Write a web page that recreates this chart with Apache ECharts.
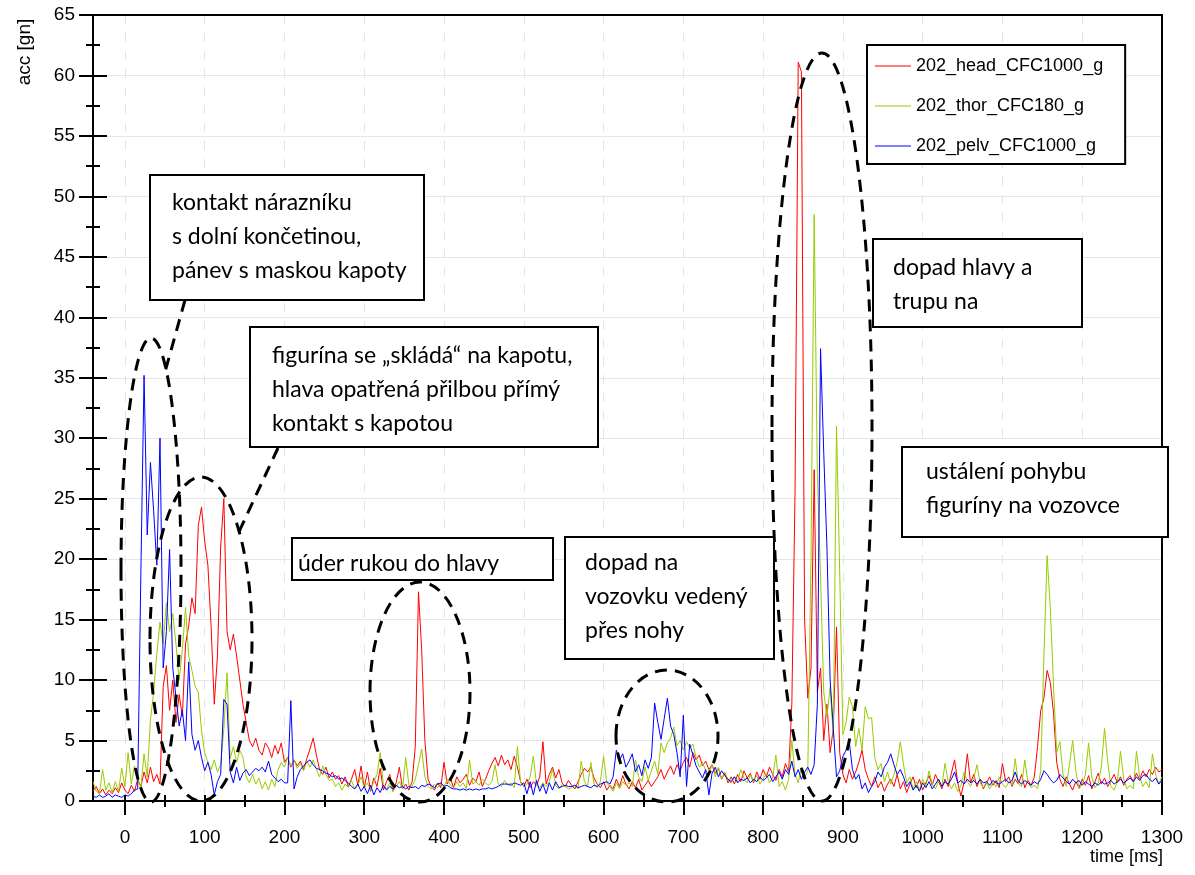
<!DOCTYPE html>
<html>
<head>
<meta charset="utf-8">
<script src="https://cdn.jsdelivr.net/npm/echarts@6/dist/echarts.min.js"></script>
<style>
html,body{margin:0;padding:0;background:#fff}
#chart{width:1195px;height:875px}
</style>
</head>
<body>
<div id="chart"></div>
<script>
const startTime = -40;
const sampleStep = 4;

const headAcc = [
  0.8,1.2,0.6,1.0,0.5,0.9,0.6,1.1,0.7,1.5,0.9,0.6,1.3,0.8,1.8,1.2,2.4,1.5,2.8,1.6,2.2,1.4,9.5,11.2,7.5,
  10,6.5,8.8,7,13,14.5,16.8,15.5,22.8,24.3,21.5,19.5,14.5,8,12,21,25,14,12.5,13.8,12,10,8,6.5,5,
  4.5,5.2,4.2,3.8,4.8,4.4,3.6,4.6,3.9,4.8,3.2,3.6,2.8,3.4,2.9,3.3,2.6,3.5,4.3,5.2,3.8,2.6,2.2,2.8,1.9,
  2.4,1.8,2.1,1.4,2.0,1.2,1.8,2.6,1.3,2.9,1.1,2.4,0.8,1.9,1.2,2.7,0.9,1.6,2.2,0.8,1.5,2.8,1.0,1.4,0.9,
  1.6,4.5,17.3,12.5,5.0,1.8,1.2,0.9,1.5,1.1,3.2,1.4,1.9,1.1,2.0,1.5,1.8,2.2,1.3,1.9,1.6,2.4,1.2,1.8,2.5,
  3.1,3.6,2.9,3.8,3.0,3.4,2.6,3.7,2.8,1.6,1.2,1.8,1.1,1.6,1.3,2.0,4.9,1.4,2.2,2.8,1.9,2.6,1.5,1.2,1.7,
  1.3,1.0,1.6,2.2,2.7,2.4,2.8,1.9,1.4,1.1,1.6,0.9,1.3,1.0,1.8,1.2,2.1,1.4,1.0,1.6,1.1,1.8,0.9,1.3,1.7,
  1.2,1.6,2.0,2.6,1.8,2.4,2.9,2.2,3.0,2.5,3.2,3.6,2.8,4.0,3.4,3.8,2.9,3.3,2.6,3.0,2.3,2.7,1.8,2.3,1.5,
  2.0,1.4,2.2,1.6,2.5,1.9,2.3,1.5,2.4,1.8,2.6,2.0,2.8,2.2,1.7,2.6,2.0,3.1,2.4,8,25.5,61.1,60.3,15,8.5,
  11,27.4,9,11,5,8,4,6,14.4,4,2.2,1.5,2.6,1.8,2.4,3.2,4.2,2.6,1.8,1.2,2.0,1.1,1.6,0.8,1.4,
  1.8,1.2,2.2,1.0,1.6,0.7,1.4,2.0,1.1,1.8,0.9,1.5,2.1,1.3,2.2,1.6,1.0,1.8,1.2,2.3,3.4,1.5,0.4,1.6,3.9,
  1.5,2.2,1.2,1.8,1.0,1.5,2.0,1.3,1.7,1.1,3.1,1.6,2.0,1.2,1.8,1.4,2.2,1.1,1.7,1.3,2.0,4.5,7.5,8.5,10.8,
  9.8,7.3,3.2,1.8,1.2,2.0,1.4,0.9,1.6,1.1,1.8,1.3,2.1,1.0,1.6,2.3,1.4,1.9,1.2,1.7,2.2,1.5,2.0,1.3,1.8,
  2.1,1.6,2.3,1.8,2.5,2.0,2.6,2.2,2.8,2.4,2.6
];

const thorAcc = [
  1.6,0.8,0.6,2.6,0.9,1.5,0.7,1.6,0.8,2.7,1.2,4.0,1.4,2.9,1.8,1.1,3.9,2.0,6.7,9.0,12.2,14.8,13,16.4,14,
  15.5,13,10,12.5,16,12,10.8,9.5,9,5.8,4.0,3.2,2.6,3.4,2.4,3.0,6,10.6,3.5,4.5,3.2,4.2,3.6,2.0,1.5,
  2.2,1.4,1.9,1.0,1.6,0.9,1.8,1.2,2.6,3.2,2.8,3.6,2.9,3.4,2.7,3.1,2.5,3.3,2.8,3.4,2.6,2.0,2.9,2.2,1.7,
  1.8,1.2,1.5,0.9,1.4,1.1,1.7,1.0,1.3,2.0,1.1,1.5,0.9,1.6,2.2,4.0,1.3,1.0,1.5,0.8,1.2,1.6,1.0,3.6,1.3,
  1.2,1.8,3.0,4.3,2.0,1.2,1.0,1.4,1.1,1.5,1.2,1.8,1.3,1.1,1.6,1.2,1.5,1.0,3.4,1.4,1.6,1.3,1.8,1.5,1.3,
  1.6,3.0,1.4,1.2,1.7,1.3,1.5,1.1,4.5,1.5,1.2,1.4,2.0,3.7,1.3,1.1,1.5,1.2,1.6,2.6,1.3,1.0,1.4,1.2,1.0,
  1.1,1.3,1.0,3.3,1.6,1.2,3.2,1.4,1.1,1.6,3.7,1.5,1.2,0.8,1.5,1.0,1.6,1.3,1.5,1.2,3.4,2.0,1.6,2.8,1.7,
  2.5,3.3,2.2,4.8,4.0,4.8,5.2,6.1,4.6,5.0,4.2,4.9,4.4,4.7,3.6,2.8,3.2,2.5,2.2,3.0,2.0,2.8,1.8,2.4,1.7,
  1.5,2.0,1.6,2.6,1.9,1.5,2.2,1.6,2.1,1.4,1.8,2.3,1.5,2.0,3.8,1.2,1.6,0.9,1.8,5.0,2.2,1.5,2.8,2.0,2.5,
  20,48.5,27,18.5,9,7,9.4,5.3,31,18.9,5.5,6.5,8.6,7.8,4.5,6.0,4.2,7.8,6.8,6.9,3.6,2.6,3.1,1.6,2.4,
  1.4,2.2,3.2,4.9,3.0,1.5,2.0,1.0,1.6,0.9,1.8,1.2,2.5,1.4,1.0,1.7,1.2,3.1,1.6,1.0,1.5,0.8,1.3,2.4,1.6,
  1.2,1.8,3.0,1.5,1.1,1.6,1.0,1.5,1.2,2.0,1.4,1.1,1.6,1.3,3.5,1.4,1.2,3.4,1.5,1.1,1.3,1.0,2.5,12,20.3,
  16,9.5,4.0,4.9,2.2,1.2,3.0,5.0,2.5,1.0,1.4,2.2,4.8,2.0,1.1,1.5,2.8,6.0,3.2,1.2,0.9,1.6,4.1,1.8,1.0,
  1.3,1.0,4.1,2.0,1.2,1.6,1.1,3.9,2.2,1.4,2.0
];

const pelvAcc = [
  0.4,0.3,0.5,0.3,0.4,0.6,0.3,0.5,0.4,0.3,0.5,0.4,0.6,0.9,1.0,18.9,35.2,22,28,24,19.5,30,11,14,20.8,
  11,8.6,6.2,7.5,5,11.5,5.5,4.2,5.0,3.6,2.5,3.2,2.2,0.5,1.6,2.2,8.4,8.0,2.4,1.5,2.8,1.7,2.3,2.6,2.1,
  2.4,2.7,2.5,2.8,2.4,3.3,2.2,1.9,1.6,1.8,1.5,1.5,8.3,1.0,2.0,2.6,2.9,3.2,3.4,3.0,2.7,2.6,2.5,2.3,2.2,
  2.0,2.1,1.8,1.9,1.7,1.5,1.2,1.0,1.4,0.8,1.2,0.6,1.3,0.5,1.1,0.7,1.3,0.9,1.2,1.0,1.3,1.1,1.2,1.0,1.2,
  1.1,1.2,1.0,1.3,1.2,1.4,1.3,1.1,1.4,1.5,1.2,1.3,1.1,1.0,1.0,0.9,1.0,0.9,1.0,0.9,1.0,0.9,1.0,1.0,1.1,
  1.0,1.1,1.2,1.4,1.4,1.4,1.3,1.5,1.4,1.3,1.5,0.6,1.6,0.5,1.7,0.8,1.4,0.6,1.5,0.9,1.6,1.1,1.2,1.3,1.2,
  1.2,1.3,1.1,1.2,1.3,1.2,1.1,1.3,1.2,1.4,1.5,1.6,1.4,2.0,4.2,3.4,3.9,2.8,3.3,3.9,2.4,3.0,2.1,3.4,2.7,
  3.6,8.1,6.5,5.1,6.8,8.5,6.2,5.5,4.0,2.0,7.1,1.2,4.7,3.8,2.9,2.4,1.9,2.6,0.5,2.3,2.8,2.0,2.5,2.1,1.8,
  1.6,2.0,1.5,1.8,1.7,1.9,1.5,1.8,1.6,2.0,1.7,1.9,2.2,1.6,2.0,2.4,1.8,2.6,2.2,3.3,2.0,2.6,1.8,2.4,2.8,
  2.2,3.0,8,37.4,28.8,21,10,6,2.0,2.5,3.7,4.2,4.9,2.6,1.8,2.2,1.0,1.5,0.7,1.2,1.6,2.4,2.0,2.8,3.2,
  3.9,3.0,2.2,2.6,2.0,1.2,1.6,0.9,1.3,0.8,1.5,1.1,1.6,1.0,1.4,1.8,1.2,1.6,1.4,1.8,2.4,1.5,1.7,1.4,1.8,
  1.5,1.7,1.4,1.8,1.5,1.6,1.3,1.7,1.5,1.4,1.6,1.8,1.5,1.7,2.4,1.6,1.4,1.7,1.5,1.3,1.6,1.4,1.8,2.5,2.2,
  1.8,1.5,1.7,2.2,1.9,1.6,1.4,1.8,1.5,1.7,1.3,1.6,1.4,1.2,1.5,1.3,1.6,1.4,1.5,1.7,1.4,1.6,1.8,1.5,1.7,
  1.9,1.6,2.0,1.7,2.1,2.2,1.8,1.6,1.9,1.4,1.7
];

const seriesNames = ['202_head_CFC1000_g', '202_thor_CFC180_g', '202_pelv_CFC1000_g'];
const seriesColors = ['#ff0000', '#99cc00', '#0000ff'];
const xMajorTicks = [0,100,200,300,400,500,600,700,800,900,1000,1100,1200,1300];
const xMinorTicks = [50,150,250,350,450,550,650,750,850,950,1050,1150,1250];

const tickFont = 'Liberation Sans';

function toPoints(values) {
  return values.map((v, i) => [startTime + i * sampleStep, v]);
}

let chartDom = document.getElementById('chart');
let myChart = echarts.init(chartDom, null, {renderer: 'canvas'});

let baseX = {
  type: 'value',
  min: -40,
  max: 1300,
  position: 'bottom',
  gridIndex: 0
};

let option = {
  animation: false,
  backgroundColor: '#fff',
  grid: {
    left: 93, top: 15, width: 1069, height: 786,
    show: true, borderColor: '#000', borderWidth: 2, backgroundColor: 'transparent'
  },
  xAxis: [
    Object.assign({}, baseX, {
      axisLine: {onZero: false, lineStyle: {color: '#000', width: 2}},
      axisTick: {customValues: xMajorTicks, length: 14, lineStyle: {color: '#000', width: 2}},
      axisLabel: {
        customValues: xMajorTicks, margin: 27, color: '#000',
        fontFamily: tickFont, fontSize: 19,
        formatter: v => String(v)
      },
      splitLine: {show: true, lineStyle: {color: '#e4e4e4', width: 1, type: [9, 9]}}
    }),
    Object.assign({}, baseX, {
      axisLine: {show: false, onZero: false},
      axisTick: {customValues: xMinorTicks, length: 6, lineStyle: {color: '#000', width: 2}},
      axisLabel: {show: false},
      splitLine: {show: false}
    }),
    Object.assign({}, baseX, {
      axisLine: {show: false, onZero: false},
      axisTick: {customValues: xMinorTicks.concat(xMajorTicks), inside: true, length: 6, lineStyle: {color: '#000', width: 2}},
      axisLabel: {show: false},
      splitLine: {show: false}
    }),
    Object.assign({}, baseX, {
      position: 'top',
      axisLine: {show: true, onZero: false, lineStyle: {color: '#000', width: 2}},
      axisTick: {show: false},
      axisLabel: {show: false},
      splitLine: {show: false}
    })
  ],
  yAxis: [
    {
      type: 'value', min: 0, max: 65, interval: 5, position: 'left',
      axisLine: {show: true, onZero: false, lineStyle: {color: '#000', width: 2}},
      axisTick: {show: true, length: 14, lineStyle: {color: '#000', width: 2}},
      minorTick: {show: true, splitNumber: 2, length: 7, lineStyle: {color: '#000', width: 2}},
      axisLabel: {margin: 18, color: '#000', fontFamily: tickFont, fontSize: 19},
      splitLine: {show: true, lineStyle: {color: '#e6e6e6', width: 1}}
    },
    {
      type: 'value', min: 0, max: 65, interval: 5, position: 'left',
      axisLine: {show: false, onZero: false},
      axisTick: {show: true, inside: true, length: 14, lineStyle: {color: '#000', width: 2}},
      minorTick: {show: true, splitNumber: 2, length: 7, lineStyle: {color: '#000', width: 2}},
      axisLabel: {show: false},
      splitLine: {show: false}
    },
    {
      type: 'value', min: 0, max: 65, interval: 5, position: 'right',
      axisLine: {show: true, onZero: false, lineStyle: {color: '#000', width: 2}},
      axisTick: {show: false},
      axisLabel: {show: false},
      splitLine: {show: false}
    }
  ],
  legend: {
    orient: 'vertical',
    left: 867, top: 45,
    padding: [12, 22, 9, 8],
    itemGap: 22,
    itemWidth: 36,
    itemHeight: 18,
    icon: 'path://M0,0 H36 V1 H0 Z',
    itemStyle: {borderWidth: 0},
    backgroundColor: '#fff',
    borderColor: '#000',
    borderWidth: 2,
    borderRadius: 0,
    textStyle: {fontFamily: 'Liberation Sans', fontSize: 18, color: '#000'},
    data: seriesNames
  },
  series: [headAcc, thorAcc, pelvAcc].map((vals, k) => ({
    name: seriesNames[k],
    type: 'line',
    data: toPoints(vals),
    symbol: 'none',
    lineStyle: {color: seriesColors[k], width: 1},
    itemStyle: {color: seriesColors[k]},
    z: 2 + k
  })),
  graphic: []
};

// annotation layer: dashed ellipses, leader lines, text boxes
const dash = {fill: 'none', stroke: '#000', lineWidth: 3, lineDash: [12, 8]};
const ellipses = [
  [151, 570, 30, 232],
  [201, 639, 51, 162],
  [420, 692, 50, 110],
  [667, 736, 51, 66],
  [822, 427, 50, 374]
];
ellipses.forEach(e => {
  option.graphic.push({type: 'ellipse', z: 50, shape: {cx: e[0], cy: e[1], rx: e[2], ry: e[3]}, style: dash});
});
option.graphic.push({type: 'line', z: 50, shape: {x1: 185, y1: 300, x2: 165, y2: 372}, style: dash});
option.graphic.push({type: 'line', z: 50, shape: {x1: 278, y1: 448, x2: 237, y2: 536}, style: dash});

const boxes = [
  {x: 150, y: 175, w: 274, h: 125, tx: 172, ty: 203, lines: ['kontakt nárazníku', 's dolní končetinou,', 'pánev s maskou kapoty']},
  {x: 250, y: 327, w: 348, h: 120, tx: 272, ty: 356, lines: ['figurína se „skládá“ na kapotu,', 'hlava opatřená přilbou přímý', 'kontakt s kapotou']},
  {x: 292, y: 538, w: 261, h: 42, tx: 298, ty: 564, lines: ['úder rukou do hlavy']},
  {x: 565, y: 537, w: 209, h: 122, tx: 585, ty: 563, lines: ['dopad na', 'vozovku vedený', 'přes nohy']},
  {x: 873, y: 239, w: 209, h: 88, tx: 893, ty: 268, lines: ['dopad hlavy a', 'trupu na']},
  {x: 902, y: 447, w: 266, h: 90, tx: 926, ty: 472, lines: ['ustálení pohybu', 'figuríny na vozovce']}
];
boxes.forEach(b => {
  option.graphic.push({
    type: 'rect', z: 60,
    shape: {x: b.x, y: b.y, width: b.w, height: b.h},
    style: {fill: '#fff', stroke: '#000', lineWidth: 2}
  });
  b.lines.forEach((line, i) => {
    option.graphic.push({
      type: 'text', z: 61,
      style: {
        text: line, x: b.tx, y: b.ty + i * 34,
        fontFamily: 'Lato', fontSize: 23, fill: '#000',
        verticalAlign: 'middle', align: 'left'
      }
    });
  });
});

option.graphic.push({
  type: 'text', z: 60, rotation: Math.PI / 2, x: 25, y: 52,
  style: {text: 'acc [gn]', fontFamily: 'Liberation Sans', fontSize: 19, fill: '#000', align: 'center', verticalAlign: 'middle'}
});
option.graphic.push({
  type: 'text', z: 60, x: 1163, y: 857,
  style: {text: 'time [ms]', fontFamily: 'Liberation Sans', fontSize: 18, fill: '#000', align: 'right', verticalAlign: 'middle'}
});

myChart.setOption(option);

window.addEventListener('resize', function () {
  myChart.resize();
});
</script>
</body>
</html>
